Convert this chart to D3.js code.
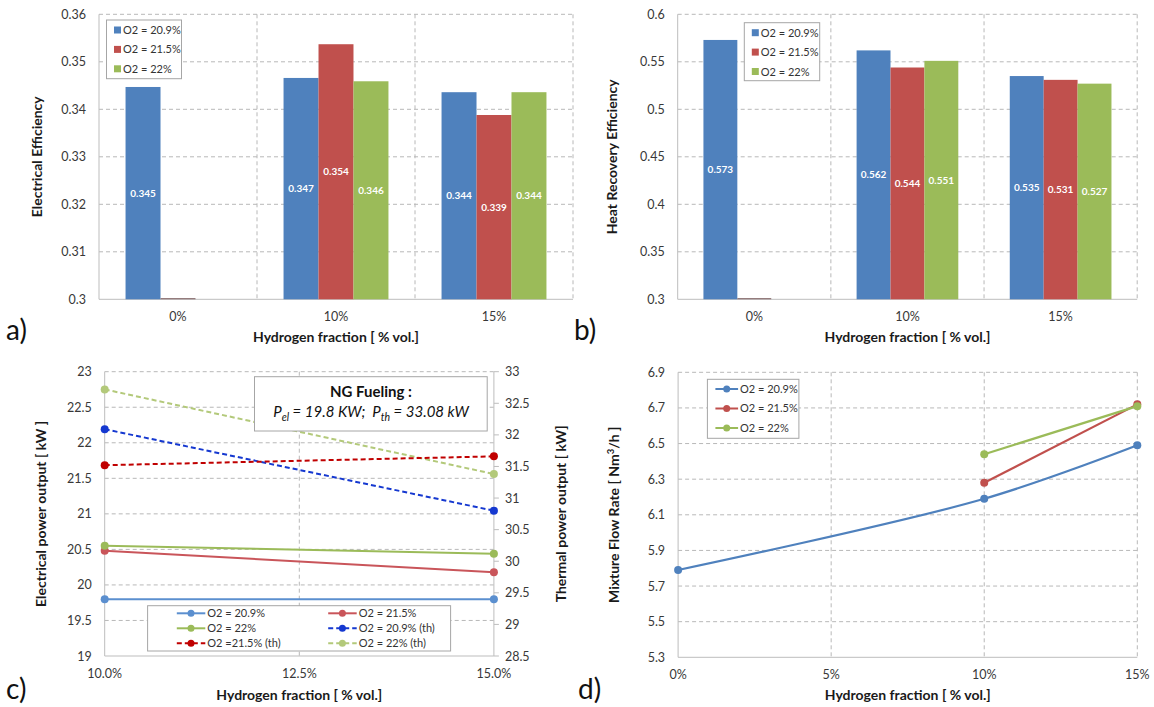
<!DOCTYPE html>
<html>
<head>
<meta charset="utf-8">
<style>
  body { margin: 0; background: #fff; }
  svg { font-family: Lato, "Open Sans", sans-serif; }
</style>
</head>
<body>
<svg id="chart" width="1154" height="707"></svg>
<script src="https://cdn.jsdelivr.net/npm/d3@7"></script>
<script>

/*========== Data ==========*/

var H2_CATEGORIES = ['0%', '10%', '15%'];
var O2_NAMES = ['O2 = 20.9%', 'O2 = 21.5%', 'O2 = 22%'];

// a) electrical efficiency (0 = empty bar sitting on the axis, null = no bar)
var EL_EFF_209 = [0.3447, 0.3466, 0.3436];
var EL_EFF_215 = [0, 0.3537, 0.3388];
var EL_EFF_22  = [null, 0.3459, 0.3436];
var EL_EFF_TICKS = [0.30, 0.31, 0.32, 0.33, 0.34, 0.35, 0.36];

// b) heat recovery efficiency
var HR_EFF_209 = [0.573, 0.562, 0.535];
var HR_EFF_215 = [0, 0.544, 0.531];
var HR_EFF_22  = [null, 0.551, 0.527];
var HR_EFF_TICKS = [0.30, 0.35, 0.40, 0.45, 0.50, 0.55, 0.60];

// c) power output
var POWER_X = [10, 15];
var POWER_X_TICKS = [10, 12.5, 15];
var P_EL_209 = [19.8, 19.8];
var P_EL_215 = [20.48, 20.18];
var P_EL_22  = [20.55, 20.44];
var P_TH_209 = [32.09, 30.80];
var P_TH_215 = [31.52, 31.66];
var P_TH_22  = [32.72, 31.38];
var P_EL_TICKS = [19, 19.5, 20, 20.5, 21, 21.5, 22, 22.5, 23];
var P_TH_TICKS = [28.5, 29, 29.5, 30, 30.5, 31, 31.5, 32, 32.5, 33];
var POWER_NAMES = ['O2 = 20.9%', 'O2 = 21.5%', 'O2 = 22%',
                   'O2 = 20.9% (th)', 'O2 =21.5% (th)', 'O2 = 22% (th)'];

// d) mixture flow rate
var FLOW_X = [0, 10, 15];
var FLOW_X_TICKS = [0, 5, 10, 15];
var FLOW_209 = [5.79, 6.19, 6.49];
var FLOW_215 = [null, 6.28, 6.72];
var FLOW_22  = [null, 6.44, 6.71];
var FLOW_TICKS = [5.3, 5.5, 5.7, 5.9, 6.1, 6.3, 6.5, 6.7, 6.9];

/*========== Styles ==========*/

var BAR_COLORS = ['#4f81bd', '#c0504d', '#9bbb59'];
var LINE_COLORS = ['#5b8fcf', '#c9555a', '#9bbb59', '#1538d0', '#c00000', '#b3c97a'];
var GRID_COLOR = '#b8b8b8';
var AXIS_COLOR = '#bdbdbd';
var TEXT_COLOR = '#383838';
var TICK_SIZE = 12.5;
var TITLE_SIZE = 14;

var svg = d3.select('#chart');

/*========== Helpers ==========*/

function hGrid(g, box, y, ticks) {
    ticks.slice(1).forEach(function(t) {
        g.append('line')
            .attr('x1', box.x0).attr('x2', box.x1)
            .attr('y1', y(t)).attr('y2', y(t))
            .attr('stroke', GRID_COLOR).attr('stroke-dasharray', '4,3');
    });
}

function vGrid(g, box, xs) {
    xs.forEach(function(x) {
        g.append('line')
            .attr('x1', x).attr('x2', x)
            .attr('y1', box.y0).attr('y2', box.y1)
            .attr('stroke', GRID_COLOR).attr('stroke-dasharray', '4,3');
    });
}

function axisFrame(g, box) {
    g.append('line')
        .attr('x1', box.x0).attr('x2', box.x0).attr('y1', box.y0).attr('y2', box.y1)
        .attr('stroke', AXIS_COLOR);
    g.append('line')
        .attr('x1', box.x0).attr('x2', box.x1).attr('y1', box.y1).attr('y2', box.y1)
        .attr('stroke', AXIS_COLOR);
}

function yLabels(g, x, y, ticks, anchor) {
    g.selectAll(null).data(ticks).enter().append('text')
        .attr('x', x).attr('y', d => y(d) + 4.5)
        .attr('text-anchor', anchor)
        .attr('font-size', TICK_SIZE).attr('fill', TEXT_COLOR)
        .text(d => String(+d.toFixed(2)));
}

function yTitle(g, x, yc, text) {
    g.append('text')
        .attr('transform', `translate(${x}, ${yc}) rotate(-90)`)
        .attr('text-anchor', 'middle')
        .attr('font-size', TITLE_SIZE).attr('font-weight', 'bold').attr('fill', '#1a1a1a')
        .text(text);
}

function xTitle(g, xc, y) {
    g.append('text')
        .attr('x', xc).attr('y', y)
        .attr('text-anchor', 'middle')
        .attr('font-size', TITLE_SIZE).attr('font-weight', 'bold').attr('fill', '#1a1a1a')
        .text('Hydrogen fraction [ % vol.]');
}

function panelLetter(g, x, y, letter) {
    g.append('text')
        .attr('x', x).attr('y', y)
        .attr('font-size', 28).attr('fill', '#111')
        .text(letter);
}

/*========== Bar panels (a, b) ==========*/

function barPanel(box, series, ticks, title, legend) {
    var g = svg.append('g');
    var y = d3.scaleLinear().domain([ticks[0], ticks[ticks.length - 1]]).range([box.y1, box.y0]);
    var x = d3.scaleBand().domain(H2_CATEGORIES).range([box.x0, box.x1]);
    var bw = x.bandwidth();
    var xs = d3.scaleBand().domain([0, 1, 2]).range([bw * 0.168, bw * 0.832]);

    hGrid(g, box, y, ticks);
    vGrid(g, box, H2_CATEGORIES.map(c => x(c) + bw));
    axisFrame(g, box);

    series.forEach(function(vals, i) {
        vals.forEach(function(v, j) {
            if (v === null) return;
            var top = y(Math.max(v, ticks[0]));
            var h = box.y1 - top;
            var bx = x(H2_CATEGORIES[j]) + xs(i);
            g.append('rect')
                .attr('x', bx).attr('y', h > 0 ? top : box.y1 - 1.2)
                .attr('width', xs.bandwidth()).attr('height', Math.max(h, 1.2))
                .attr('fill', h > 0 ? BAR_COLORS[i] : '#8a6f70');
            if (h > 0) {
                g.append('text')
                    .attr('x', bx + xs.bandwidth() / 2).attr('y', top + h / 2 + 3.5)
                    .attr('text-anchor', 'middle')
                    .attr('font-size', 10).attr('font-weight', 'bold').attr('fill', '#fff')
                    .text(d3.format('.3f')(v));
            }
        });
    });

    yLabels(g, box.x0 - 13, y, ticks, 'end');
    g.selectAll(null).data(H2_CATEGORIES).enter().append('text')
        .attr('x', d => x(d) + bw / 2).attr('y', box.y1 + 22)
        .attr('text-anchor', 'middle')
        .attr('font-size', TICK_SIZE).attr('fill', TEXT_COLOR)
        .text(d => d);
    yTitle(g, title.x, (box.y0 + box.y1) / 2, title.text);
    xTitle(g, (box.x0 + box.x1) / 2, box.y1 + 43);

    // legend
    g.append('rect')
        .attr('x', legend.x).attr('y', legend.y).attr('width', legend.w).attr('height', legend.h)
        .attr('fill', '#fff').attr('stroke', '#a6a6a6');
    O2_NAMES.forEach(function(name, i) {
        var ly = legend.y + 10 + i * 19.4;
        g.append('rect')
            .attr('x', legend.x + 7.5).attr('y', ly - 3.5).attr('width', 7).attr('height', 7)
            .attr('fill', BAR_COLORS[i]);
        g.append('text')
            .attr('x', legend.x + 16.5).attr('y', ly + 4)
            .attr('font-size', 11).attr('fill', '#333')
            .text(name);
    });
    return g;
}

var ga = barPanel({x0: 99, x1: 573, y0: 14.3, y1: 299.3},
    [EL_EFF_209, EL_EFF_215, EL_EFF_22], EL_EFF_TICKS,
    {x: 42, text: 'Electrical Efficiency'},
    {x: 106.5, y: 20, w: 75, h: 58.7});
panelLetter(ga, 6, 340, 'a)');

var gb = barPanel({x0: 677.7, x1: 1137.2, y0: 14.3, y1: 299.3},
    [HR_EFF_209, HR_EFF_215, HR_EFF_22], HR_EFF_TICKS,
    {x: 617, text: 'Heat Recovery Efficiency'},
    {x: 744.3, y: 22.7, w: 75.4, h: 58});
panelLetter(gb, 574, 340, 'b)');

/*========== c) power output ==========*/

(function() {
    var box = {x0: 104.7, x1: 493.9, y0: 371.7, y1: 656};
    var g = svg.append('g');
    var x = d3.scaleLinear().domain([10, 15]).range([box.x0, box.x1]);
    var yEl = d3.scaleLinear().domain([19, 23]).range([box.y1, box.y0]);
    var yTh = d3.scaleLinear().domain([28.5, 33]).range([box.y1, box.y0]);

    hGrid(g, box, yEl, P_EL_TICKS);
    vGrid(g, box, [x(12.5)]);
    axisFrame(g, box);
    g.append('line')
        .attr('x1', box.x1).attr('x2', box.x1).attr('y1', box.y0).attr('y2', box.y1)
        .attr('stroke', AXIS_COLOR);
    P_TH_TICKS.forEach(function(t) {
        g.append('line')
            .attr('x1', box.x1).attr('x2', box.x1 + 5).attr('y1', yTh(t)).attr('y2', yTh(t))
            .attr('stroke', AXIS_COLOR);
    });

    var series = [
        {vals: P_EL_209, y: yEl, dash: null},
        {vals: P_EL_215, y: yEl, dash: null},
        {vals: P_EL_22,  y: yEl, dash: null},
        {vals: P_TH_209, y: yTh, dash: '5,3'},
        {vals: P_TH_215, y: yTh, dash: '5,3'},
        {vals: P_TH_22,  y: yTh, dash: '5,3'}
    ];
    var drawOrder = [5, 3, 4, 0, 1, 2];
    drawOrder.forEach(function(i) {
        var s = series[i];
        var pts = s.vals.map((v, k) => [x(POWER_X[k]), s.y(v)]);
        g.append('path')
            .attr('d', d3.line()(pts))
            .attr('fill', 'none').attr('stroke', LINE_COLORS[i]).attr('stroke-width', 2)
            .attr('stroke-dasharray', s.dash);
        g.selectAll(null).data(pts).enter().append('circle')
            .attr('cx', d => d[0]).attr('cy', d => d[1]).attr('r', 4)
            .attr('fill', LINE_COLORS[i]);
    });

    yLabels(g, box.x0 - 13, yEl, P_EL_TICKS, 'end');
    yLabels(g, box.x1 + 11, yTh, P_TH_TICKS, 'start');
    g.selectAll(null).data(POWER_X_TICKS).enter().append('text')
        .attr('x', d => x(d)).attr('y', box.y1 + 22)
        .attr('text-anchor', 'middle')
        .attr('font-size', TICK_SIZE).attr('fill', TEXT_COLOR)
        .text(d => d3.format('.1f')(d) + '%');
    yTitle(g, 46, (box.y0 + box.y1) / 2, 'Electrical power output [ kW ]');
    yTitle(g, 566, (box.y0 + box.y1) / 2, 'Thermal power output [ kW]');
    xTitle(g, (box.x0 + box.x1) / 2, box.y1 + 44);

    // annotation
    g.append('rect')
        .attr('x', 254.5).attr('y', 376.7).attr('width', 232.7).attr('height', 54.3)
        .attr('fill', '#fff').attr('stroke', '#a6a6a6');
    g.append('text')
        .attr('x', 371).attr('y', 397)
        .attr('text-anchor', 'middle')
        .attr('font-size', 15).attr('font-weight', 'bold').attr('fill', '#111')
        .text('NG Fueling :');
    var note = g.append('text')
        .attr('x', 371).attr('y', 417)
        .attr('text-anchor', 'middle')
        .attr('font-size', 15).attr('font-style', 'italic').attr('fill', '#111');
    note.append('tspan').text('P');
    note.append('tspan').attr('font-size', 10.5).attr('dy', 4).text('el');
    note.append('tspan').attr('dy', -4).text(' = 19.8 KW;\u00a0\u00a0P');
    note.append('tspan').attr('font-size', 10.5).attr('dy', 4).text('th');
    note.append('tspan').attr('dy', -4).text(' = 33.08 kW');

    // legend
    g.append('rect')
        .attr('x', 147.6).attr('y', 605.7).attr('width', 303).attr('height', 45.3)
        .attr('fill', '#fff').attr('stroke', '#a6a6a6');
    POWER_NAMES.forEach(function(name, i) {
        var col = i % 2, row = Math.floor(i / 2);
        var lx = col === 0 ? 176.8 : 328.2;
        var ly = 613.3 + row * 15;
        g.append('line')
            .attr('x1', lx).attr('x2', lx + 28.5).attr('y1', ly).attr('y2', ly)
            .attr('stroke', LINE_COLORS[i]).attr('stroke-width', 2)
            .attr('stroke-dasharray', series[i].dash);
        g.append('circle')
            .attr('cx', lx + 14.2).attr('cy', ly).attr('r', 3.5)
            .attr('fill', LINE_COLORS[i]);
        g.append('text')
            .attr('x', lx + 30.5).attr('y', ly + 3.8)
            .attr('font-size', 11).attr('fill', '#333')
            .text(name);
    });
    panelLetter(g, 6, 699, 'c)');
})();

/*========== d) mixture flow rate ==========*/

(function() {
    var box = {x0: 678.1, x1: 1137.3, y0: 372.3, y1: 657.3};
    var g = svg.append('g');
    var x = d3.scaleLinear().domain([0, 15]).range([box.x0, box.x1]);
    var y = d3.scaleLinear().domain([5.3, 6.9]).range([box.y1, box.y0]);

    hGrid(g, box, y, FLOW_TICKS);
    vGrid(g, box, FLOW_X_TICKS.slice(1).map(x));
    axisFrame(g, box);

    var series = [FLOW_209, FLOW_215, FLOW_22];
    var line = d3.line()
        .defined(d => d[1] !== null)
        .x(d => x(d[0])).y(d => y(d[1]))
        .curve(d3.curveCatmullRom.alpha(0.5));
    series.forEach(function(vals, i) {
        var pts = vals.map((v, k) => [FLOW_X[k], v]);
        g.append('path')
            .attr('d', line(pts))
            .attr('fill', 'none').attr('stroke', BAR_COLORS[i]).attr('stroke-width', 2.2);
        g.selectAll(null).data(pts.filter(d => d[1] !== null)).enter().append('circle')
            .attr('cx', d => x(d[0])).attr('cy', d => y(d[1])).attr('r', 4)
            .attr('fill', BAR_COLORS[i]);
    });

    yLabels(g, box.x0 - 13, y, FLOW_TICKS, 'end');
    g.selectAll(null).data(FLOW_X_TICKS).enter().append('text')
        .attr('x', d => x(d)).attr('y', box.y1 + 22)
        .attr('text-anchor', 'middle')
        .attr('font-size', TICK_SIZE).attr('fill', TEXT_COLOR)
        .text(d => d + '%');
    var t = g.append('text')
        .attr('transform', `translate(619, ${(box.y0 + box.y1) / 2}) rotate(-90)`)
        .attr('text-anchor', 'middle')
        .attr('font-size', TITLE_SIZE).attr('font-weight', 'bold').attr('fill', '#1a1a1a');
    t.append('tspan').text('Mixture Flow Rate [ Nm');
    t.append('tspan').attr('font-size', 9.5).attr('dy', -5).text('3');
    t.append('tspan').attr('dy', 5).text('/h ]');
    xTitle(g, (box.x0 + box.x1) / 2, box.y1 + 43);

    // legend
    g.append('rect')
        .attr('x', 707.4).attr('y', 379.3).attr('width', 91.5).attr('height', 59)
        .attr('fill', '#fff').attr('stroke', '#a6a6a6');
    O2_NAMES.forEach(function(name, i) {
        var ly = 389 + i * 19.5;
        g.append('line')
            .attr('x1', 715.4).attr('x2', 738.1).attr('y1', ly).attr('y2', ly)
            .attr('stroke', BAR_COLORS[i]).attr('stroke-width', 2);
        g.append('circle')
            .attr('cx', 726.7).attr('cy', ly).attr('r', 3.5)
            .attr('fill', BAR_COLORS[i]);
        g.append('text')
            .attr('x', 740).attr('y', ly + 3.8)
            .attr('font-size', 11).attr('fill', '#333')
            .text(name);
    });
    panelLetter(g, 578, 699, 'd)');
})();

</script>
</body>
</html>
